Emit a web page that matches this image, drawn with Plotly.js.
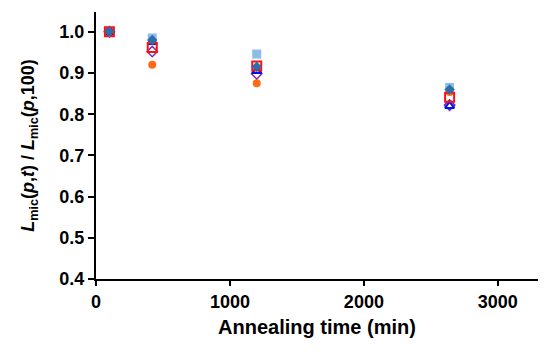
<!DOCTYPE html>
<html>
<head>
<meta charset="utf-8">
<script src="https://cdn.plot.ly/plotly-3.0.1.min.js"></script>
<style>html,body{margin:0;padding:0;background:#fff;}#chart{width:550px;height:352px;}</style>
</head>
<body>
<div id="chart"></div>
<script>
// Annealing times (min)
const times = [100, 420, 1200, 2640];
// Series values (Lmic(p,t)/Lmic(p,100))
const seriesLightSquare = [1.0, 0.985, 0.946, 0.865];
const seriesDarkDiamond = [1.0, 0.980, 0.915, 0.860];
const seriesOrangeCircle = [1.0, 0.920, 0.875, 0.854];
const seriesPurpleDiamond = [1.0, 0.952, 0.898, 0.822];
const seriesBlueTriangle = [1.0, 0.975, 0.905, 0.820];
const seriesRedSquare = [1.0, 0.962, 0.917, 0.841];
const xTicks = [0, 1000, 2000, 3000];
const yTicks = [0.4, 0.5, 0.6, 0.7, 0.8, 0.9, 1.0];

function tr(y, symbol, color, size, lw) {
  return {x: times, y: y, type: 'scatter', mode: 'markers',
    marker: {symbol: symbol, color: color, size: size, line: {color: color, width: lw || 0}},
    showlegend: false, hoverinfo: 'skip'};
}
const data = [
  tr(seriesOrangeCircle, 'circle', '#FF6A12', 8),
  tr(seriesLightSquare, 'square', '#8DBDE8', 9),
  tr(seriesPurpleDiamond, 'diamond-open', '#7A30B0', 8, 1.5),
  tr(seriesBlueTriangle, 'triangle-up-open', '#0010F0', 8, 2),
  tr(seriesRedSquare, 'square-open', '#FF1010', 9, 2),
  tr(seriesDarkDiamond, 'diamond', '#2F6DAA', 8),
];
const axisFont = {family: 'Liberation Sans, Arial, sans-serif', size: 18, color: '#000', weight: 'bold'};
const layout = {
  width: 550, height: 352,
  margin: {l: 96, r: 12, t: 12, b: 73},
  paper_bgcolor: '#fff', plot_bgcolor: '#fff',
  xaxis: {
    range: [0, 3300], tickvals: xTicks, ticktext: xTicks.map(String),
    showgrid: false, zeroline: false, showline: true, linecolor: '#000', linewidth: 2,
    ticks: 'outside', ticklen: 5, tickwidth: 2, tickcolor: '#000',
    tickfont: axisFont,
    title: {text: '<b>Annealing time (min)</b>', font: {family: 'Liberation Sans, Arial, sans-serif', size: 20, color: '#000'}, standoff: 9}
  },
  yaxis: {
    range: [0.4, 1.048], tickvals: yTicks, ticktext: yTicks.map(v => v.toFixed(1)),
    showgrid: false, zeroline: false, showline: true, linecolor: '#000', linewidth: 2,
    ticks: 'outside', ticklen: 6, tickwidth: 2, tickcolor: '#000',
    tickfont: axisFont,
    title: {text: '<b><i>L</i><sub>mic</sub>(<i>p</i>,<i>t</i>) / <i>L</i><sub>mic</sub>(<i>p</i>,100)</b>', font: {family: 'Liberation Sans, Arial, sans-serif', size: 18, color: '#000'}, standoff: 20}
  }
};
Plotly.newPlot('chart', data, layout, {staticPlot: true, displayModeBar: false});
</script>
</body>
</html>
